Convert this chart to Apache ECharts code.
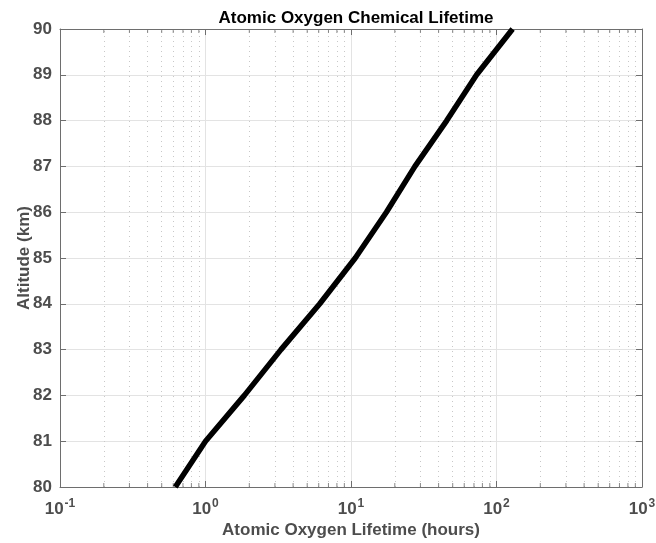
<!DOCTYPE html>
<html>
<head>
<meta charset="utf-8">
<script src="https://cdn.jsdelivr.net/npm/echarts@6/dist/echarts.min.js"></script>
<style>
    html, body { margin: 0; padding: 0; background: #fff; }
    #chart { width: 656px; height: 543px; }
</style>
</head>
<body>
<div id="chart"></div>
<script>
    // altitude (km) and lifetime (hours)
    var altitudes = [80, 81, 82, 83, 84, 85, 86, 87, 88, 89, 90];
    var lifetimes = [0.62, 1.0, 1.85, 3.3, 6.1, 10.7, 17.5, 27.5, 45.5, 73, 129];

    // minor grid positions of the log axis (2..9 times each decade)
    var minorTicks = [];
    [0.1, 1, 10, 100].forEach(function (d) {
        for (var k = 2; k <= 9; k++) minorTicks.push(+(d * k).toPrecision(3));
    });

    var labelFont = 'Liberation Sans, Arial, sans-serif';
    var gray = '#4d4d4d';
    var frame = '#6e6e6e';

    var chart = echarts.init(document.getElementById('chart'));

    function decadeLabel(v) {
        var e = Math.round(Math.log10(v));
        return '{b|10}{s|' + e + '}';
    }

    chart.setOption({
        animation: false,
        title: {
            text: 'Atomic Oxygen Chemical Lifetime',
            left: 351,
            top: 5,
            textAlign: 'center',
            textStyle: { fontFamily: labelFont, fontSize: 17, fontWeight: 'bold', color: '#000' }
        },
        grid: { left: 60, right: 14, top: 29, bottom: 56, outerBoundsMode: 'none', containLabel: false },
        xAxis: [{
            type: 'log',
            logBase: 10,
            min: 0.1,
            max: 1000,
            name: 'Atomic Oxygen Lifetime (hours)',
            nameLocation: 'middle',
            nameGap: 35,
            nameMoveOverlap: false,
            nameTextStyle: { fontFamily: labelFont, fontSize: 17, fontWeight: 'bold', color: gray },
            axisLine: { show: true, lineStyle: { color: frame, width: 1 } },
            axisTick: { show: true, inside: true, length: 6, lineStyle: { color: frame } },
            axisLabel: {
                margin: 11,
                formatter: decadeLabel,
                rich: {
                    b: { fontFamily: labelFont, fontSize: 17, fontWeight: 'bold', color: gray },
                    s: { fontFamily: labelFont, fontSize: 12, fontWeight: 'bold', color: gray, padding: [0, 0, 11, 1] }
                }
            },
            splitLine: { show: true, lineStyle: { color: '#e3e3e3', width: 1 } }
        }, {
            type: 'log',
            logBase: 10,
            min: 0.1,
            max: 1000,
            position: 'top',
            axisLine: { show: true, lineStyle: { color: frame, width: 1 } },
            axisTick: { show: true, inside: true, length: 6, lineStyle: { color: frame } },
            axisLabel: { show: false },
            splitLine: { show: false }
        }],
        yAxis: [{
            type: 'value',
            min: 80,
            max: 90,
            interval: 1,
            name: 'Altitude (km)',
            nameLocation: 'middle',
            nameGap: 27,
            nameMoveOverlap: false,
            nameTextStyle: { fontFamily: labelFont, fontSize: 17, fontWeight: 'bold', color: gray },
            axisLine: { show: true, lineStyle: { color: frame, width: 1 } },
            axisTick: { show: true, inside: true, length: 6, lineStyle: { color: frame } },
            axisLabel: { fontFamily: labelFont, fontSize: 17, fontWeight: 'bold', color: gray, margin: 8 },
            splitLine: { show: true, lineStyle: { color: '#e3e3e3', width: 1 } }
        }, {
            type: 'value',
            min: 80,
            max: 90,
            interval: 1,
            position: 'right',
            axisLine: { show: true, lineStyle: { color: frame, width: 1 } },
            axisTick: { show: true, inside: true, length: 6, lineStyle: { color: frame } },
            axisLabel: { show: false },
            splitLine: { show: false }
        }],
        series: [{
            // minor dotted grid
            type: 'line',
            data: [],
            silent: true,
            z: 1,
            markLine: {
                silent: true,
                z: 1,
                symbol: ['none', 'none'],
                label: { show: false },
                lineStyle: { color: '#c8c8c8', type: [1, 4], width: 1 },
                data: minorTicks.map(function (v) { return { xAxis: v }; })
            }
        }, {
            // minor ticks on bottom frame
            type: 'scatter',
            silent: true,
            symbol: 'rect',
            symbolSize: [1, 4],
            symbolOffset: [0, -2],
            itemStyle: { color: frame },
            data: minorTicks.map(function (v) { return [v, 80]; })
        }, {
            // minor ticks on top frame
            type: 'scatter',
            silent: true,
            symbol: 'rect',
            symbolSize: [1, 4],
            symbolOffset: [0, 2],
            itemStyle: { color: frame },
            data: minorTicks.map(function (v) { return [v, 90]; })
        }, {
            name: 'Lifetime',
            type: 'line',
            z: 10,
            showSymbol: false,
            lineStyle: { color: '#000', width: 5.5 },
            data: lifetimes.map(function (v, i) { return [v, altitudes[i]]; })
        }]
    });
</script>
</body>
</html>
